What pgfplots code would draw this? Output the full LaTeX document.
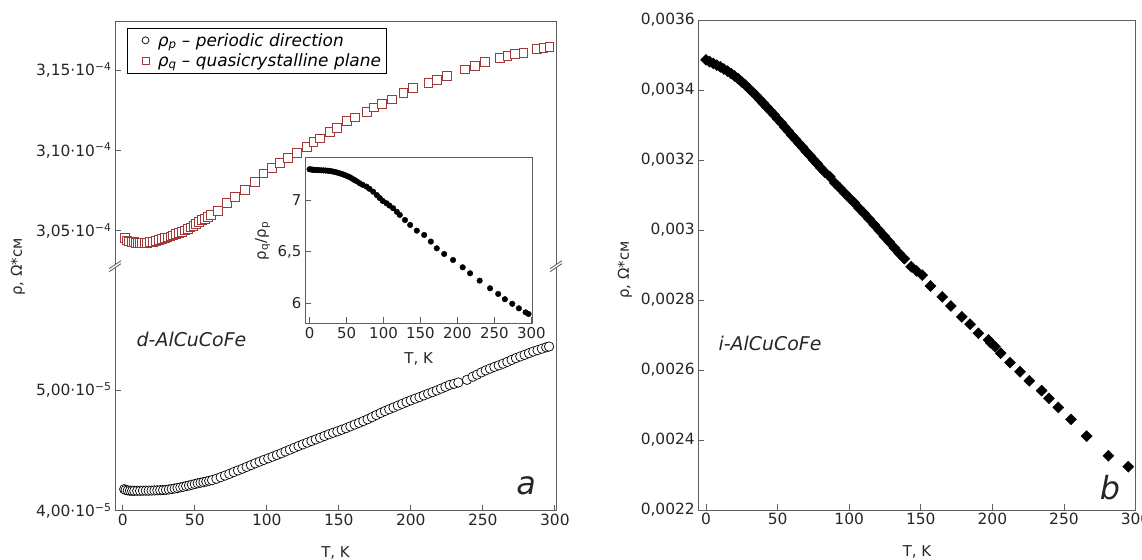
\documentclass[border=0pt]{standalone}
\usepackage{fontspec}
\setmainfont{DejaVu Sans}
\usepackage{pgfplots}
\pgfplotsset{compat=1.18}
\definecolor{axgray}{RGB}{95,95,95}
\definecolor{sqred}{RGB}{160,58,58}
\pgfplotsset{
  myax/.style={
    scale only axis,
    anchor=south west,
    axis line style={axgray, line width=0.8bp},
    every tick/.style={axgray, line width=0.8bp},
    major tick length=6bp,
    tick align=inside,
    tick label style={font=\fontsize{15.5}{18}\selectfont, text=black!85},
    label style={font=\fontsize{15}{18}\selectfont, text=black!85},
    /pgf/number format/assume math mode=true,
    scaled ticks=false,
    clip=false,
  },
  circ/.style={only marks, mark=*, mark size=4.7bp, mark options={fill=white, draw=black, line width=0.7bp}},
  sq/.style={only marks, mark=square*, mark size=4.4bp, mark options={fill=white, draw=sqred, line width=0.8bp}},
}

\begin{document}
\begin{tikzpicture}
\useasboundingbox (0bp,0bp) rectangle (1142bp,560bp);

% ---------- left panel, upper part (quasicrystalline plane)
\begin{axis}[myax, at={(115bp,293.3bp)}, width=441bp, height=245.7bp,
  xmin=-5.4, xmax=300.8, ymin=3.0276e-4, ymax=3.1806e-4,
  axis x line*=top, axis y line*=box, ytick pos=left, xtick=\empty,
  ytick={3.05e-4,3.1e-4,3.15e-4},
  yticklabels={{3,05·10\textsuperscript{−4}},{3,10·10\textsuperscript{−4}},{3,15·10\textsuperscript{−4}}},
  legend style={at={(0.027,0.972)}, anchor=north west, draw=black, line width=0.6bp,
    font=\fontsize{17}{20}\selectfont\itshape, cells={anchor=west},
    inner xsep=3bp, inner ysep=3bp, row sep=2bp},
]
\addlegendimage{legend image code/.code={
  \draw[mark=*, mark size=3.5bp, mark options={fill=white, draw=black, line width=0.7bp}] plot coordinates {(15bp,0bp)};
  \path (0bp,0bp) (25bp,0bp);}}
\addlegendentry{ρ\textsubscript{p} – periodic direction}
\addlegendimage{legend image code/.code={
  \draw[mark=square*, mark size=3.5bp, mark options={fill=white, draw=sqred, line width=0.8bp}] plot coordinates {(15bp,0bp)};
  \path (0bp,0bp) (25bp,0bp);}}
\addlegendentry{ρ\textsubscript{q} – quasicrystalline plane}
\addplot[sq, forget plot] coordinates {
(1.5,3.0453e-4)(3,3.0440e-4)(4.5,3.0434e-4)(6,3.0430e-4)(7.5,3.0428e-4)(9,3.0426e-4)
(10.5,3.0425e-4)(12,3.0425e-4)(13.5,3.0425e-4)(15,3.0425e-4)(17,3.0426e-4)(19,3.0428e-4)
(21,3.0431e-4)(23,3.0436e-4)(25,3.0441e-4)(27,3.0447e-4)(29,3.0453e-4)(31,3.0459e-4)
(33,3.0465e-4)(35,3.0471e-4)(37,3.0478e-4)(39,3.0485e-4)(41,3.0493e-4)(43,3.0502e-4)
(45,3.0511e-4)(47,3.0521e-4)(49,3.0532e-4)(51,3.0543e-4)(53,3.0554e-4)(55,3.0565e-4)
(57,3.0576e-4)(59,3.0587e-4)(61,3.0598e-4)
(66.3,3.0625e-4)(72.1,3.0671e-4)(77.9,3.0712e-4)(84.9,3.0753e-4)(91.8,3.0805e-4)
(97.6,3.0857e-4)(103.4,3.0889e-4)(109.2,3.0920e-4)(114.9,3.0951e-4)(120.8,3.0986e-4)
(127.7,3.1023e-4)(132.3,3.1054e-4)(137,3.1075e-4)(143.9,3.1116e-4)(148.5,3.1138e-4)
(155.5,3.1185e-4)(161.3,3.1206e-4)(169.4,3.1241e-4)(174.4,3.1268e-4)(179.8,3.1289e-4)
(186.7,3.1318e-4)(194.8,3.1359e-4)(201.7,3.1387e-4)(212.2,3.1422e-4)(218,3.1438e-4)
(224.9,3.1463e-4)(237.6,3.1505e-4)(244.6,3.1526e-4)(251.5,3.1550e-4)(262,3.1574e-4)
(267,3.1588e-4)(272.4,3.1600e-4)(278.1,3.1608e-4)(287.4,3.1630e-4)(292,3.1640e-4)
(296.2,3.1646e-4)
};
\end{axis}

% ---------- left panel, lower part (periodic direction)
\begin{axis}[myax, at={(115bp,49.3bp)}, width=441bp, height=244bp,
  xmin=-5.4, xmax=300.8, ymin=4e-5, ymax=6.023e-5,
  axis x line*=bottom, axis y line*=box, ytick pos=left,
  xtick={0,50,...,300},
  ytick={4e-5,5e-5},
  yticklabels={{4,00·10\textsuperscript{−5}},{5,00·10\textsuperscript{−5}}},
  xlabel={T, K}, ylabel={ρ, Ω*см},
  xlabel style={at={(axis description cs:0.5,-0.173)}, anchor=center},
  ylabel style={at={(axis description cs:-0.22,0.999)}, anchor=center},
]
\addplot[circ] coordinates {
(1,4.178e-5)(2,4.172e-5)(3.5,4.168e-5)(5,4.166e-5)(6.5,4.165e-5)(8,4.165e-5)(10,4.165e-5)
(12,4.165e-5)(14,4.166e-5)(16,4.166e-5)(18,4.166e-5)(20,4.167e-5)(22,4.168e-5)(24,4.169e-5)
(26,4.170e-5)(28,4.171e-5)(30,4.173e-5)(32,4.176e-5)(34,4.180e-5)(36,4.184e-5)(38,4.188e-5)
(40,4.193e-5)(42,4.198e-5)(44,4.204e-5)(46,4.209e-5)(48,4.215e-5)(50,4.221e-5)(52,4.227e-5)
(54,4.232e-5)(56,4.237e-5)(58,4.242e-5)(60,4.248e-5)(62,4.253e-5)
(65,4.265e-5)(68,4.278e-5)(71,4.291e-5)(74,4.305e-5)(77,4.320e-5)(80,4.334e-5)(83,4.348e-5)
(86,4.363e-5)(89,4.378e-5)(92,4.393e-5)(95,4.407e-5)(98,4.421e-5)(101,4.434e-5)(104,4.448e-5)
(107,4.462e-5)(110,4.476e-5)(113,4.491e-5)(116,4.506e-5)(119,4.521e-5)(122,4.536e-5)
(125,4.550e-5)(128,4.564e-5)(131,4.578e-5)(134,4.591e-5)(137,4.605e-5)(140,4.619e-5)
(143,4.633e-5)(146,4.646e-5)(149,4.658e-5)(152,4.671e-5)(155,4.684e-5)(158,4.699e-5)
(161,4.714e-5)(164,4.728e-5)(167,4.743e-5)(170,4.758e-5)(173,4.775e-5)(176,4.793e-5)
(179,4.810e-5)(182,4.826e-5)(185,4.841e-5)(188,4.856e-5)(191,4.871e-5)(194,4.886e-5)
(197,4.901e-5)(200,4.915e-5)(203,4.929e-5)(206,4.942e-5)(209,4.956e-5)(212,4.970e-5)
(215,4.983e-5)(218,4.997e-5)(221,5.012e-5)(224,5.027e-5)(227,5.043e-5)(230,5.052e-5)
(233,5.063e-5)(239,5.085e-5)(243,5.111e-5)(246,5.128e-5)(249,5.147e-5)(252,5.163e-5)
(255,5.178e-5)(258,5.192e-5)(261,5.205e-5)(264,5.219e-5)(267,5.234e-5)(270,5.250e-5)
(273,5.265e-5)(276,5.279e-5)(279,5.292e-5)(282,5.306e-5)(285,5.320e-5)(288,5.331e-5)
(291,5.343e-5)(294,5.355e-5)(296,5.361e-5)
};
\node[font=\fontsize{19}{22}\selectfont\itshape, text=black!85] at (axis description cs:0.1735,0.70) {d-AlCuCoFe};
\node[font=\fontsize{32}{36}\selectfont\itshape, text=black!85] at (axis description cs:0.932,0.101) {a};
\end{axis}

% axis break marks
\foreach \xx in {115,556} {
  \fill[white] (\xx bp-6bp,288.3bp) -- (\xx bp+6bp,296.3bp) -- (\xx bp+6bp,299.3bp) -- (\xx bp-6bp,291.3bp) -- cycle;
  \draw[axgray, line width=0.8bp] (\xx bp-6bp,288.3bp) -- (\xx bp+6bp,296.3bp);
  \draw[axgray, line width=0.8bp] (\xx bp-6bp,291.3bp) -- (\xx bp+6bp,299.3bp);
}

% ---------- inset: ratio
\begin{axis}[myax, at={(305bp,236.5bp)}, width=227.3bp, height=166bp,
  xmin=-6.1, xmax=301.1, ymin=5.804, ymax=7.411,
  tick pos=left, axis background/.style={fill=white},
  tick label style={font=\fontsize{15}{18}\selectfont},
  xtick={0,50,...,300}, ytick={6,6.5,7}, yticklabels={6,{6,5},7},
  xlabel={T, K}, ylabel={ρ\textsubscript{q}/ρ\textsubscript{p}},
  xlabel style={at={(axis description cs:0.5,-0.214)}, anchor=center},
  ylabel style={at={(axis description cs:-0.187,0.497)}, anchor=center},
]
\addplot[only marks, mark=*, mark size=2.8bp, black] coordinates {
(0,7.297)(2,7.295)(4,7.293)(6,7.291)(8,7.290)(10,7.290)(13,7.288)(16,7.287)(19,7.286)
(22,7.285)(25,7.283)(28,7.280)(31,7.276)(34,7.271)(37,7.266)(40,7.260)(43,7.253)(46,7.246)
(49,7.237)(52,7.228)(55,7.218)(58,7.205)(61,7.192)(64,7.180)(68,7.161)(72,7.146)(77,7.129)
(81,7.108)(86,7.080)(91,7.047)(95,7.018)(99,6.990)(104,6.968)(108,6.946)(113,6.920)
(118,6.885)(122,6.855)(129,6.806)(136,6.758)(145,6.703)(155,6.661)(164,6.597)(172,6.532)
(182,6.477)(194,6.419)(207,6.348)(217,6.290)(230,6.219)(244,6.145)(255,6.090)(264,6.039)
(274,5.995)(283,5.951)(292,5.912)(296,5.896)
};
\end{axis}

% ---------- right panel
\begin{axis}[myax, at={(698.3bp,50bp)}, width=437.4bp, height=490bp,
  xmin=-5.4, xmax=300.1, ymin=0.0022, ymax=0.0036,
  tick pos=left,
  xtick={0,50,...,300},
  ytick={0.0022,0.0024,0.0026,0.0028,0.003,0.0032,0.0034,0.0036},
  yticklabels={{0,0022},{0,0024},{0,0026},{0,0028},{0,003},{0,0032},{0,0034},{0,0036}},
  xlabel={T, K}, ylabel={ρ, Ω*см},
  xlabel style={at={(axis description cs:0.5,-0.0847)}, anchor=center},
  ylabel style={at={(axis description cs:-0.1676,0.49)}, anchor=center},
]
\addplot[only marks, mark=square*, mark size=3.9bp, black, mark options={rotate=45}] coordinates {
(0,0.003486)(2.5,0.003481)(5,0.003476)(7.5,0.003471)(10,0.003466)(12.5,0.003460)(15,0.003454)
(17.5,0.003447)(20,0.003440)(22.5,0.003432)(25,0.003423)(27.5,0.003414)(30,0.003404)
(32.5,0.003394)(35,0.003384)(37.5,0.003373)(40,0.003362)(42.5,0.003351)(45,0.003340)
(47.5,0.003329)(50,0.003317)(52.5,0.003306)(55,0.003294)(57.5,0.003282)(60,0.003270)
(62.5,0.003259)(65,0.003247)(67.5,0.003236)(70,0.003224)(72.5,0.003213)(75,0.003201)
(77.5,0.003190)(80,0.003178)(83,0.003165)(86.5,0.003152)(90,0.003134)(93.5,0.003120)
(97,0.003105)(100,0.003092)(103.5,0.003078)(107,0.003062)(110.5,0.003047)(114,0.003031)
(117.5,0.003015)(121,0.002999)(124.5,0.002982)(128,0.002966)(131.5,0.002949)(135,0.002933)
(138.5,0.002918)
(143.3,0.002895)(147,0.002883)(151,0.002871)(156.8,0.002840)(165,0.002809)(171,0.002783)
(178.6,0.002752)(184.4,0.002731)(190.2,0.002705)(197.3,0.002686)(198.8,0.002678)
(201.8,0.002667)(205.8,0.002648)(212.3,0.002621)(219.3,0.002595)(225.8,0.002569)
(234.4,0.002541)(239.5,0.002519)(246,0.002493)(254.9,0.002459)(265.8,0.002411)
(281,0.002355)(294.9,0.0023237)
};
\node[font=\fontsize{19}{22}\selectfont\itshape, text=black!85] at (axis description cs:0.164,0.339) {i-AlCuCoFe};
\node[font=\fontsize{32}{36}\selectfont\itshape, text=black!85] at (axis description cs:0.941,0.045) {b};
\end{axis}
\end{tikzpicture}
\end{document}
